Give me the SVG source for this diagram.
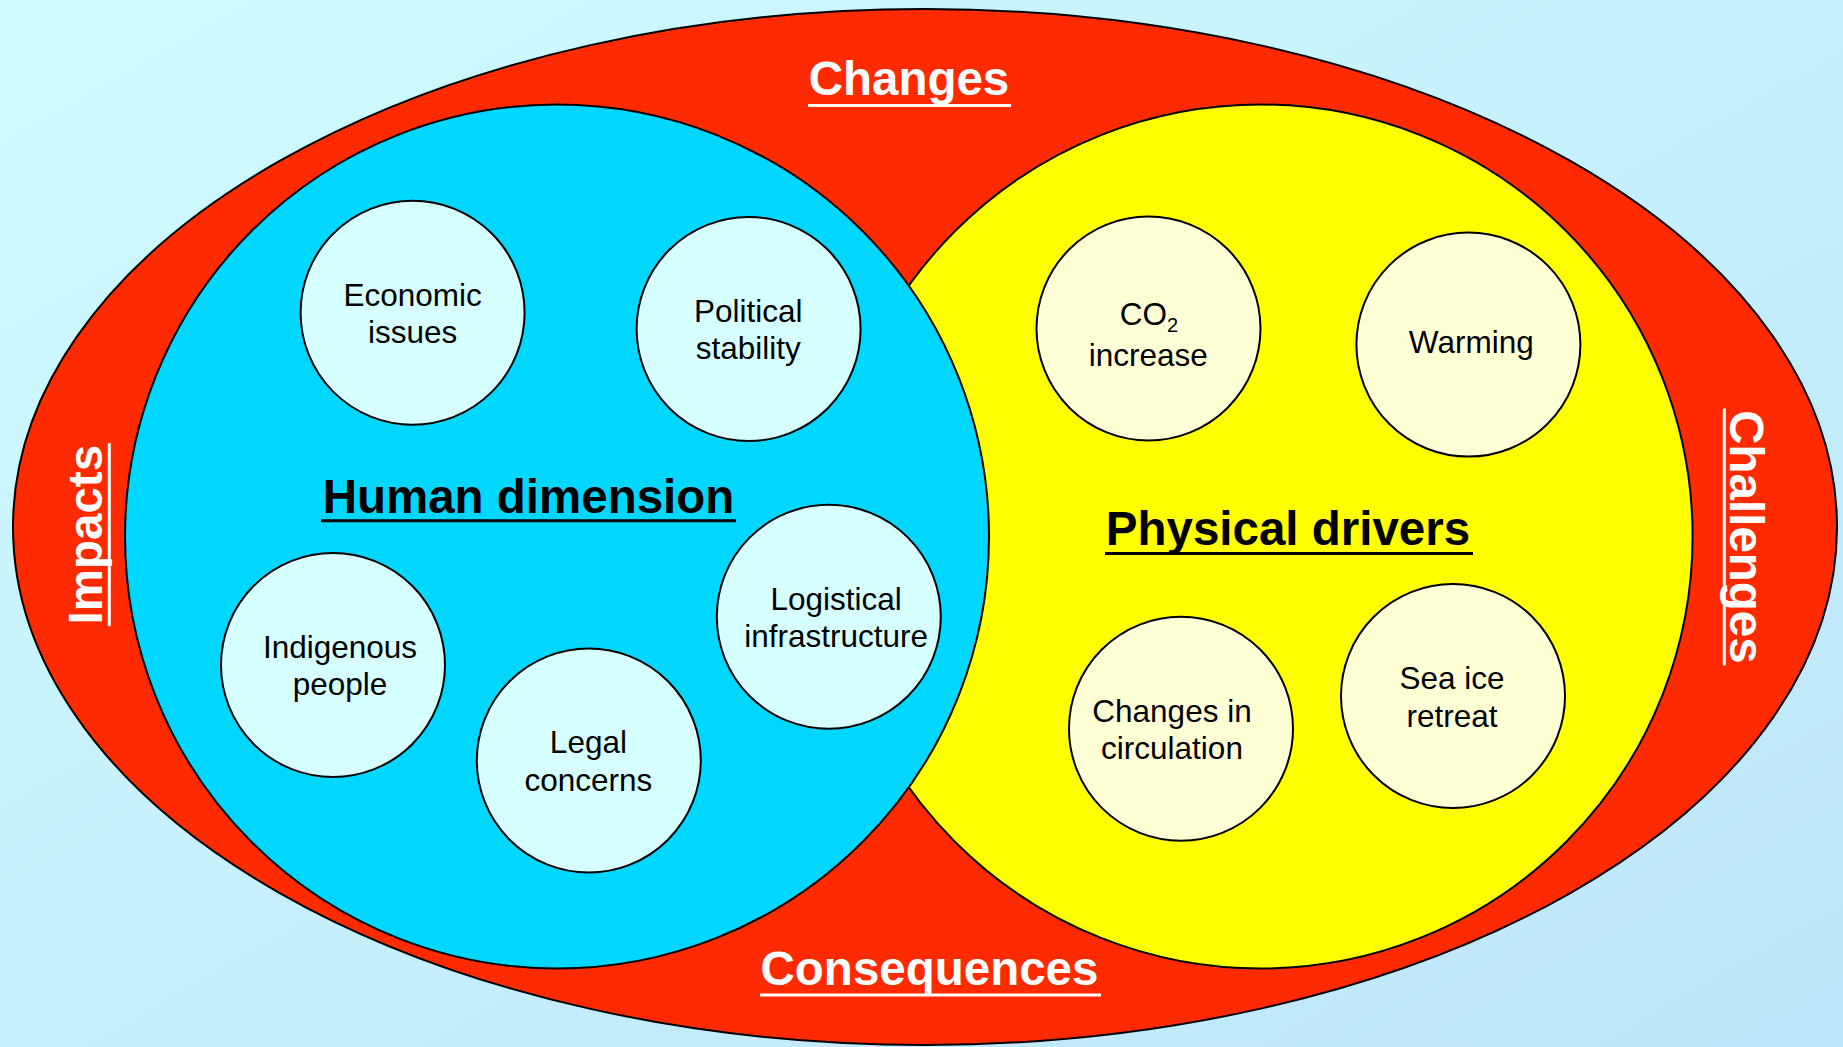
<svg xmlns="http://www.w3.org/2000/svg" width="1843" height="1047" viewBox="0 0 1843 1047">
  <defs>
    <linearGradient id="bg" x1="0" y1="0" x2="1" y2="1">
      <stop offset="0" stop-color="#d0fbff"/>
      <stop offset="1" stop-color="#bde5f9"/>
    </linearGradient>
    <style>
      .edge { stroke: #000; stroke-width: 2; }
      .hum { fill: #d6ffff; stroke: #000; stroke-width: 2; }
      .phy { fill: #ffffd6; stroke: #000; stroke-width: 2; }
      .lbl { font-family: "Liberation Sans", Arial, sans-serif; font-size: 31.5px; fill: #000; text-anchor: middle; }
      .head { font-family: "Liberation Sans", Arial, sans-serif; font-size: 47.5px; font-weight: bold; fill: #000; text-anchor: middle; }
      .side { font-family: "Liberation Sans", Arial, sans-serif; font-size: 47.5px; font-weight: bold; fill: #fff; text-anchor: middle; }
      .ulb { stroke: #000; stroke-width: 3; }
      .ulw { stroke: #fff; stroke-width: 3; }
    </style>
  </defs>

  <rect x="0" y="0" width="1843" height="1047" fill="url(#bg)"/>

  <g id="outer">
    <ellipse cx="925" cy="527" rx="912" ry="518" fill="#ff2a00" class="edge"/>
    <text class="side" x="909" y="95">Changes</text>
    <line class="ulw" x1="808" y1="105.5" x2="1011" y2="105.5"/>
    <text class="side" x="929.5" y="985">Consequences</text>
    <line class="ulw" x1="760" y1="995" x2="1101" y2="995"/>
    <g transform="translate(101.7,534.7) rotate(-90)">
      <text class="side" x="0" y="0">Impacts</text>
      <line class="ulw" x1="-91.5" y1="7.6" x2="91.5" y2="7.6"/>
    </g>
    <g transform="translate(1730,537) rotate(90)">
      <text class="side" x="0" y="0">Challenges</text>
      <line class="ulw" x1="-128.5" y1="5.7" x2="128.5" y2="5.7"/>
    </g>
  </g>

  <g id="physical-drivers">
    <circle cx="1260.6" cy="536.5" r="432" fill="#ffff00" class="edge"/>
    <text class="head" x="1288" y="545">Physical drivers</text>
    <line class="ulb" x1="1105" y1="553.5" x2="1473" y2="553.5"/>
  </g>

  <g id="human-dimension">
    <circle cx="557" cy="536.5" r="432" fill="#00d7ff" class="edge"/>
    <text class="head" x="528.5" y="512.7">Human dimension</text>
    <line class="ulb" x1="321" y1="520.7" x2="736" y2="520.7"/>
  </g>

  <g id="connectors"/>

  <g id="economic-issues">
    <circle class="hum" cx="412.6" cy="312.7" r="112"/>
    <text class="lbl" x="412.6" y="305.7">Economic</text>
    <text class="lbl" x="412.6" y="343">issues</text>
  </g>
  <g id="political-stability">
    <circle class="hum" cx="748.6" cy="329" r="112"/>
    <text class="lbl" x="748.2" y="322">Political</text>
    <text class="lbl" x="748.2" y="359.3">stability</text>
  </g>
  <g id="indigenous-people">
    <circle class="hum" cx="333" cy="665" r="112"/>
    <text class="lbl" x="340" y="657.5">Indigenous</text>
    <text class="lbl" x="340" y="695">people</text>
  </g>
  <g id="legal-concerns">
    <circle class="hum" cx="588.8" cy="760.5" r="112"/>
    <text class="lbl" x="588.4" y="753.3">Legal</text>
    <text class="lbl" x="588.4" y="791">concerns</text>
  </g>
  <g id="logistical-infrastructure">
    <circle class="hum" cx="828.8" cy="616.8" r="112"/>
    <text class="lbl" x="836.2" y="610">Logistical</text>
    <text class="lbl" x="836.2" y="647.3">infrastructure</text>
  </g>

  <g id="co2-increase">
    <circle class="phy" cx="1148.5" cy="328.5" r="112"/>
    <text class="lbl" x="1149" y="325">CO<tspan font-size="20" dy="7">2</tspan></text>
    <text class="lbl" x="1148.2" y="365.7">increase</text>
  </g>
  <g id="warming">
    <circle class="phy" cx="1468.4" cy="344.6" r="112"/>
    <text class="lbl" x="1471.3" y="353.3">Warming</text>
  </g>
  <g id="changes-in-circulation">
    <circle class="phy" cx="1181" cy="728.7" r="112"/>
    <text class="lbl" x="1172" y="721.7">Changes in</text>
    <text class="lbl" x="1172" y="759.3">circulation</text>
  </g>
  <g id="sea-ice-retreat">
    <circle class="phy" cx="1453" cy="696" r="112"/>
    <text class="lbl" x="1452" y="689.3">Sea ice</text>
    <text class="lbl" x="1452" y="726.7">retreat</text>
  </g>
</svg>
